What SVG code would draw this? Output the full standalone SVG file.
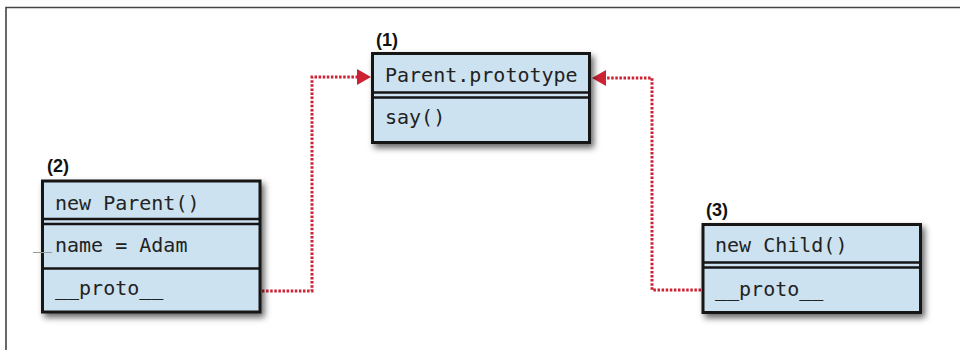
<svg xmlns="http://www.w3.org/2000/svg" width="960" height="350" viewBox="0 0 960 350">
<style>
.box{fill:#cde2f0;stroke:#151515;stroke-width:3}
.sep{stroke:#151515;stroke-width:2.5;fill:none}
.t{font-family:"DejaVu Sans Mono","Liberation Mono",monospace;font-size:20px;fill:#222}
.lbl{font-family:"Liberation Sans","DejaVu Sans",sans-serif;font-weight:bold;font-size:18px;fill:#111}
.con{fill:none;stroke:#cc2233;stroke-width:3;stroke-dasharray:2.5 1.6}
</style>
<defs>
<filter id="sh" x="-10%" y="-10%" width="130%" height="140%">
<feDropShadow dx="3" dy="4" stdDeviation="3" flood-color="#000" flood-opacity="0.6"/>
</filter>
</defs>
<rect width="960" height="350" fill="#fff"/>
<path d="M6,350 V7.5 H960" fill="none" stroke="#444" stroke-width="1.6"/>
<g id="connectors">
<path class="con" d="M262,291 H312 V77 H357" />
<path d="M357,69 L371,77 L357,85 Z" fill="#cc2233"/>
<path class="con" d="M701,290 H652 V78 H606" />
<path d="M606,70 L592,78 L606,86 Z" fill="#cc2233"/>
</g>
<g id="node1">
<text class="lbl" x="376" y="46">(1)</text>
<rect class="box" x="372.5" y="53.5" width="217" height="89" filter="url(#sh)"/>
<path class="sep" d="M372.5,92.5 H589.5 M372.5,97.5 H589.5"/>
<text class="t" x="385" y="82">Parent.prototype</text>
<text class="t" x="385" y="124">say()</text>
</g>
<g id="node2">
<text class="lbl" x="47" y="172">(2)</text>
<rect class="box" x="42.5" y="181" width="217.5" height="131" filter="url(#sh)"/>
<path class="sep" d="M42.5,219 H260 M42.5,224 H260 M42.5,268.5 H260"/>
<line x1="33" y1="252.5" x2="52" y2="252.5" stroke="#999" stroke-width="1"/>
<text class="t" x="55" y="210">new Parent()</text>
<text class="t" x="55" y="252">name = Adam</text>
<text class="t" x="55" y="295">__proto__</text>
</g>
<g id="node3">
<text class="lbl" x="706" y="216">(3)</text>
<rect class="box" x="703" y="224.5" width="217.5" height="88" filter="url(#sh)"/>
<path class="sep" d="M703,262.5 H920.5 M703,267.5 H920.5"/>
<text class="t" x="715" y="252">new Child()</text>
<text class="t" x="715" y="296">__proto__</text>
</g>
</svg>
